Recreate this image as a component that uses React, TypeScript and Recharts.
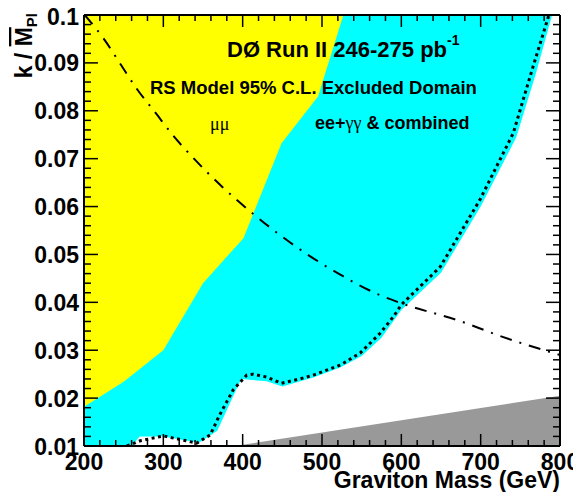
import { ComposedChart, Area, Line, XAxis, YAxis } from 'recharts';

// mu-mu excluded region edge (yellow)
const mumuMass = [200, 250, 300, 350, 401, 449, 495, 527];
const mumuK = [0.0182, 0.0234, 0.03, 0.044, 0.0534, 0.0732, 0.083, 0.1];

// ee+gg & combined excluded region edge (cyan)
const eeggMass = [200, 260, 270, 300, 345, 368, 398, 430, 450, 489, 523, 550, 575, 600, 650, 700, 745, 770, 790];
const eeggK = [0.01, 0.01, 0.012, 0.012, 0.0107, 0.0132, 0.024, 0.0235, 0.0224, 0.0243, 0.0264, 0.0288, 0.0326, 0.0384, 0.0462, 0.06, 0.0745, 0.088, 0.1];

// combined limit (dotted)
const combMass = [254, 271, 300, 323, 342, 359, 371, 388, 405, 413, 430, 449, 472, 489, 523, 548, 573, 590, 600, 649, 699, 741, 766, 786];
const combK = [0.01, 0.0111, 0.0121, 0.0113, 0.0106, 0.0123, 0.0165, 0.0217, 0.0248, 0.025, 0.0244, 0.0231, 0.024, 0.0248, 0.0269, 0.0294, 0.0335, 0.037, 0.0395, 0.0474, 0.0614, 0.0753, 0.0892, 0.1];

// theory bound (dash-dot)
const thMass = [201, 225, 245, 266, 290, 313, 338, 375, 413, 464, 527, 573, 600, 674, 724, 800];
const thK = [0.1, 0.095, 0.09, 0.0847, 0.0796, 0.0747, 0.0701, 0.064, 0.0585, 0.052, 0.0454, 0.0415, 0.0398, 0.0361, 0.033, 0.029];

// grey wedge
const greyMass = [390, 800];
const greyK = [0.01, 0.0205];

const massLabels = ['200', '300', '400', '500', '600', '700', '800'];
const kLabels = ['0.01', '0.02', '0.03', '0.04', '0.05', '0.06', '0.07', '0.08', '0.09', '0.1'];
const massTicks = Array.from({ length: 31 }, (_, i) => 200 + i * 20);
const kTicks = Array.from({ length: 46 }, (_, i) => (10 + i * 2) / 1000);

const mumuData = mumuMass.map((x, i) => ({ x, k: [mumuK[i], 0.1] }));
const eeggData = eeggMass.map((x, i) => ({ x, k: [eeggK[i], 0.1] }));
const combData = combMass.map((x, i) => ({ x, k: combK[i] }));
const thData = thMass.map((x, i) => ({ x, k: thK[i] }));
const greyData = greyMass.map((x, i) => ({ x, k: [0.01, greyK[i]] }));

const FONT = '"Liberation Sans", Arial, Helvetica, sans-serif';
const SERIF = '"Liberation Serif", "Times New Roman", serif';

const isMajorX = (v: number) => v % 100 === 0;
const majorYIndex = (v: number) => {
  const m = Math.round(v * 1000);
  return m % 10 === 0 ? m / 10 - 1 : -1;
};

const BottomTick = (p: any) => {
  const v = p.payload.value;
  const major = isMajorX(v);
  return (
    <g>
      <line x1={p.x} x2={p.x} y1={p.y} y2={p.y - (major ? 12 : 6)} stroke="#000" strokeWidth={1.5} />
      {major && (
        <text x={p.x} y={p.y + 24} textAnchor="middle" fontFamily={FONT} fontWeight="bold" fontSize={23} fill="#000">
          {massLabels[(v - 200) / 100]}
        </text>
      )}
    </g>
  );
};

const TopTick = (p: any) => {
  const major = isMajorX(p.payload.value);
  return <line x1={p.x} x2={p.x} y1={p.y} y2={p.y + (major ? 12 : 6)} stroke="#000" strokeWidth={1.5} />;
};

const LeftTick = (p: any) => {
  const idx = majorYIndex(p.payload.value);
  const major = idx >= 0;
  return (
    <g>
      <line x1={p.x} x2={p.x + (major ? 14 : 7)} y1={p.y} y2={p.y} stroke="#000" strokeWidth={1.5} />
      {major && (
        <text x={p.x - 5} y={p.y + (idx === 9 ? 10 : 8.5)} textAnchor="end" fontFamily={FONT} fontWeight="bold" fontSize={23} fill="#000">
          {kLabels[idx]}
        </text>
      )}
    </g>
  );
};

const RightTick = (p: any) => {
  const major = majorYIndex(p.payload.value) >= 0;
  return <line x1={p.x} x2={p.x - (major ? 14 : 7)} y1={p.y} y2={p.y} stroke="#000" strokeWidth={1.5} />;
};

export default function App() {
  return (
    <div style={{ margin: -8, position: 'relative', width: 581, height: 500 }}>
      <ComposedChart width={581} height={500} margin={{ top: 14, right: 20, left: 0, bottom: 0 }}>
        <Area data={eeggData} dataKey="k" type="linear" stroke="none" fill="#00ffff" fillOpacity={1} isAnimationActive={false} dot={false} activeDot={false} />
        <Area data={mumuData} dataKey="k" type="linear" stroke="none" fill="#ffff00" fillOpacity={1} isAnimationActive={false} dot={false} activeDot={false} />
        <Area data={greyData} dataKey="k" type="linear" stroke="none" fill="#999999" fillOpacity={1} isAnimationActive={false} dot={false} activeDot={false} />
        <Line data={combData} dataKey="k" type="linear" stroke="#000" strokeWidth={3} strokeDasharray="3 3.5" dot={false} activeDot={false} isAnimationActive={false} />
        <Line data={thData} dataKey="k" type="monotone" stroke="#000" strokeWidth={2} strokeDasharray="12 8 2 8" dot={false} activeDot={false} isAnimationActive={false} />

        <XAxis dataKey="x" type="number" domain={[200, 800]} allowDataOverflow ticks={massTicks} interval={0} height={54}
          tickSize={0} tickMargin={0} tick={BottomTick} axisLine={{ stroke: '#000', strokeWidth: 2 }} tickLine={false} />
        <XAxis xAxisId="top" orientation="top" dataKey="x" type="number" domain={[200, 800]} allowDataOverflow ticks={massTicks} interval={0} height={1}
          tickSize={0} tickMargin={0} tick={TopTick} axisLine={{ stroke: '#000', strokeWidth: 2 }} tickLine={false} />
        <YAxis type="number" domain={[0.01, 0.1]} allowDataOverflow ticks={kTicks} interval={0} width={84}
          tickSize={0} tickMargin={0} tick={LeftTick} axisLine={{ stroke: '#000', strokeWidth: 2 }} tickLine={false} />
        <YAxis yAxisId="right" orientation="right" type="number" domain={[0.01, 0.1]} allowDataOverflow ticks={kTicks} interval={0} width={1}
          tickSize={0} tickMargin={0} tick={RightTick} axisLine={{ stroke: '#000', strokeWidth: 2 }} tickLine={false} />
      </ComposedChart>

      <svg width={581} height={500} style={{ position: 'absolute', left: 0, top: 0, pointerEvents: 'none' }}>
        <text x={32} y={13} transform="rotate(-90 32 13)" textAnchor="end" fontFamily={FONT} fontWeight="bold" fontSize={23} fill="#000">
          k / <tspan style={{ textDecoration: 'overline' }}>M</tspan>
          <tspan dy={5} fontSize={15}>Pl</tspan>
        </text>
        <text x={560} y={488} textAnchor="end" fontFamily={FONT} fontWeight="bold" fontSize={23} fill="#000">
          Graviton Mass (GeV)
        </text>
        <text x={227} y={57} fontFamily={FONT} fontWeight="bold" fontSize={22} fill="#000">
          DØ Run II 246-275 pb<tspan dy={-12} fontSize={14}>-1</tspan>
        </text>
        <text x={150} y={94} fontFamily={FONT} fontWeight="bold" fontSize={18.5} fill="#000">
          RS Model 95% C.L. Excluded Domain
        </text>
        <text x={210} y={130} fontFamily={SERIF} fontSize={18} fill="#000">
          μμ
        </text>
        <text x={315} y={129} fontFamily={FONT} fontWeight="bold" fontSize={18} fill="#000">
          ee+<tspan fontFamily={SERIF} fontWeight="normal">γγ</tspan> &amp; combined
        </text>
      </svg>
    </div>
  );
}
